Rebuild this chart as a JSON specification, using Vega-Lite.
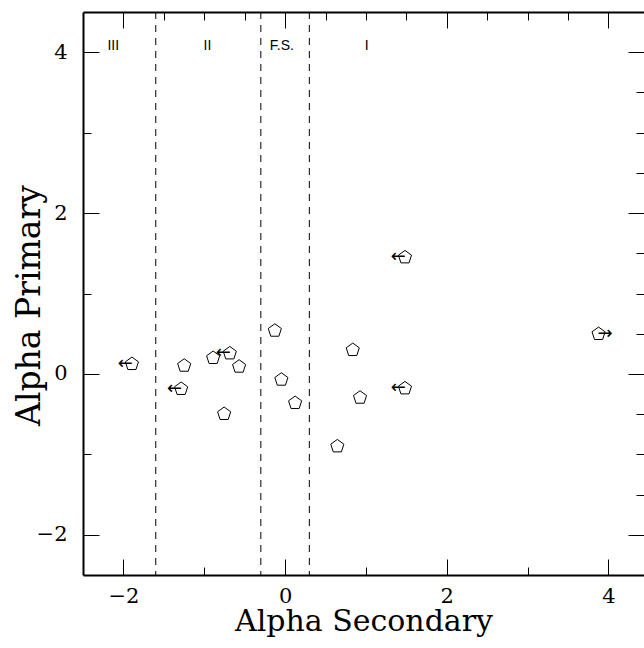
{
  "$schema": "https://vega.github.io/schema/vega-lite/v6.json",
  "width": 561,
  "height": 563,
  "autosize": {"type": "none"},
  "padding": {"left": 83, "top": 12, "right": 0, "bottom": 73},
  "background": "white",
  "config": {
    "view": {"stroke": null},
    "axis": {"grid": false, "domainColor": "black", "tickColor": "black", "labelColor": "black", "titleColor": "black", "tickWidth": 1, "domainWidth": 2}
  },
  "datasets": {
    "points": [
      {"alpha_secondary": -1.895, "alpha_primary": 0.124, "limit": "upper"},
      {"alpha_secondary": -1.248, "alpha_primary": 0.103, "limit": "none"},
      {"alpha_secondary": -1.286, "alpha_primary": -0.186, "limit": "upper"},
      {"alpha_secondary": -0.890, "alpha_primary": 0.199, "limit": "none"},
      {"alpha_secondary": -0.684, "alpha_primary": 0.256, "limit": "upper"},
      {"alpha_secondary": -0.569, "alpha_primary": 0.091, "limit": "none"},
      {"alpha_secondary": -0.754, "alpha_primary": -0.497, "limit": "none"},
      {"alpha_secondary": -0.127, "alpha_primary": 0.538, "limit": "none"},
      {"alpha_secondary": -0.046, "alpha_primary": -0.071, "limit": "none"},
      {"alpha_secondary": 0.124, "alpha_primary": -0.361, "limit": "none"},
      {"alpha_secondary": 0.837, "alpha_primary": 0.298, "limit": "none"},
      {"alpha_secondary": 0.927, "alpha_primary": -0.295, "limit": "none"},
      {"alpha_secondary": 0.646, "alpha_primary": -0.900, "limit": "none"},
      {"alpha_secondary": 1.483, "alpha_primary": 1.450, "limit": "upper"},
      {"alpha_secondary": 1.483, "alpha_primary": -0.179, "limit": "upper"},
      {"alpha_secondary": 3.878, "alpha_primary": 0.497, "limit": "lower"}
    ],
    "bounds": [{"boundary": -1.6}, {"boundary": -0.3}, {"boundary": 0.3}],
    "regions": [
      {"region": "III", "center": -2.125},
      {"region": "II", "center": -0.96},
      {"region": "F.S.", "center": -0.04},
      {"region": "I", "center": 1.01}
    ]
  },
  "resolve": {"axis": {"x": "independent", "y": "independent"}},
  "layer": [
    {
      "data": {"name": "bounds"},
      "mark": {"type": "rule", "color": "black", "strokeWidth": 1, "strokeDash": [7, 6]},
      "encoding": {
        "x": {"field": "boundary", "type": "quantitative", "scale": {"domain": [-2.5, 4.44], "nice": false, "zero": false}, "axis": null}
      }
    },
    {
      "data": {"name": "points"},
      "mark": {"type": "point", "shape": "M0,-1L0.951,-0.309L0.588,0.809L-0.588,0.809L-0.951,-0.309Z", "filled": false, "stroke": "black", "strokeWidth": 1, "size": 190, "opacity": 1},
      "encoding": {
        "x": {
          "field": "alpha_secondary", "type": "quantitative",
          "scale": {"domain": [-2.5, 4.44], "nice": false, "zero": false},
          "axis": {
            "orient": "bottom",
            "values": [-2, -1.5, -1, -0.5, 0, 0.5, 1, 1.5, 2, 2.5, 3, 3.5, 4],
            "format": "d",
            "tickSize": {"condition": {"test": "datum.value % 2 === 0", "value": -16}, "value": -8},
            "labelExpr": "datum.value % 2 === 0 ? datum.label : ''",
            "labelFont": "DejaVu Serif", "labelFontSize": 21, "labelPadding": 26, "labelBaseline": "top",
            "labelFlush": false, "labelOverlap": false,
            "title": "Alpha Secondary", "titleFont": "DejaVu Serif", "titleFontSize": 30, "titleFontWeight": "normal",
            "titleY": 55, "titleBaseline": "alphabetic"
          }
        },
        "y": {
          "field": "alpha_primary", "type": "quantitative",
          "scale": {"domain": [-2.5, 4.5], "nice": false, "zero": false},
          "axis": {
            "orient": "left",
            "values": [-2, -1.5, -1, -0.5, 0, 0.5, 1, 1.5, 2, 2.5, 3, 3.5, 4],
            "format": "d",
            "tickSize": {"condition": {"test": "datum.value % 2 === 0", "value": -16}, "value": -8},
            "labelExpr": "datum.value % 2 === 0 ? datum.label : ''",
            "labelFont": "DejaVu Serif", "labelFontSize": 21, "labelPadding": 32, "labelBaseline": "middle",
            "labelFlush": false, "labelOverlap": false,
            "title": "Alpha Primary", "titleFont": "DejaVu Serif", "titleFontSize": 33, "titleFontWeight": "normal",
            "titleX": -44, "titleY": 293, "titleAngle": 270, "titleBaseline": "alphabetic", "titleAlign": "center"
          }
        }
      }
    },
    {
      "data": {"name": "points"},
      "transform": [{"filter": "datum.limit === 'upper'"}],
      "mark": {"type": "text", "text": "←", "font": "DejaVu Sans", "fontSize": 18, "align": "right", "baseline": "middle", "dx": 1, "color": "black"},
      "encoding": {
        "x": {"field": "alpha_secondary", "type": "quantitative", "scale": {"domain": [-2.5, 4.44], "nice": false, "zero": false}, "axis": null},
        "y": {"field": "alpha_primary", "type": "quantitative", "scale": {"domain": [-2.5, 4.5], "nice": false, "zero": false}, "axis": null}
      }
    },
    {
      "data": {"name": "points"},
      "transform": [{"filter": "datum.limit === 'lower'"}],
      "mark": {"type": "text", "text": "→", "font": "DejaVu Sans", "fontSize": 18, "align": "left", "baseline": "middle", "dx": -1, "color": "black"},
      "encoding": {
        "x": {"field": "alpha_secondary", "type": "quantitative", "scale": {"domain": [-2.5, 4.44], "nice": false, "zero": false}, "axis": null},
        "y": {"field": "alpha_primary", "type": "quantitative", "scale": {"domain": [-2.5, 4.5], "nice": false, "zero": false}, "axis": null}
      }
    },
    {
      "data": {"name": "regions"},
      "mark": {"type": "text", "font": "Liberation Sans", "fontSize": 14, "align": "center", "baseline": "alphabetic", "dy": -2, "color": "black"},
      "encoding": {
        "text": {"field": "region"},
        "x": {
          "field": "center", "type": "quantitative",
          "scale": {"domain": [-2.5, 4.44], "nice": false, "zero": false},
          "axis": {
            "orient": "top",
            "values": [-2, -1.5, -1, -0.5, 0, 0.5, 1, 1.5, 2, 2.5, 3, 3.5, 4],
            "tickSize": {"condition": {"test": "datum.value % 2 === 0", "value": -16}, "value": -8},
            "labels": false, "title": null
          }
        },
        "y": {
          "datum": 4, "type": "quantitative",
          "scale": {"domain": [-2.5, 4.5], "nice": false, "zero": false},
          "axis": {
            "orient": "right",
            "values": [-2, -1.5, -1, -0.5, 0, 0.5, 1, 1.5, 2, 2.5, 3, 3.5, 4],
            "tickSize": {"condition": {"test": "datum.value % 2 === 0", "value": -16}, "value": -8},
            "labels": false, "title": null, "domain": false
          }
        }
      }
    }
  ]
}
